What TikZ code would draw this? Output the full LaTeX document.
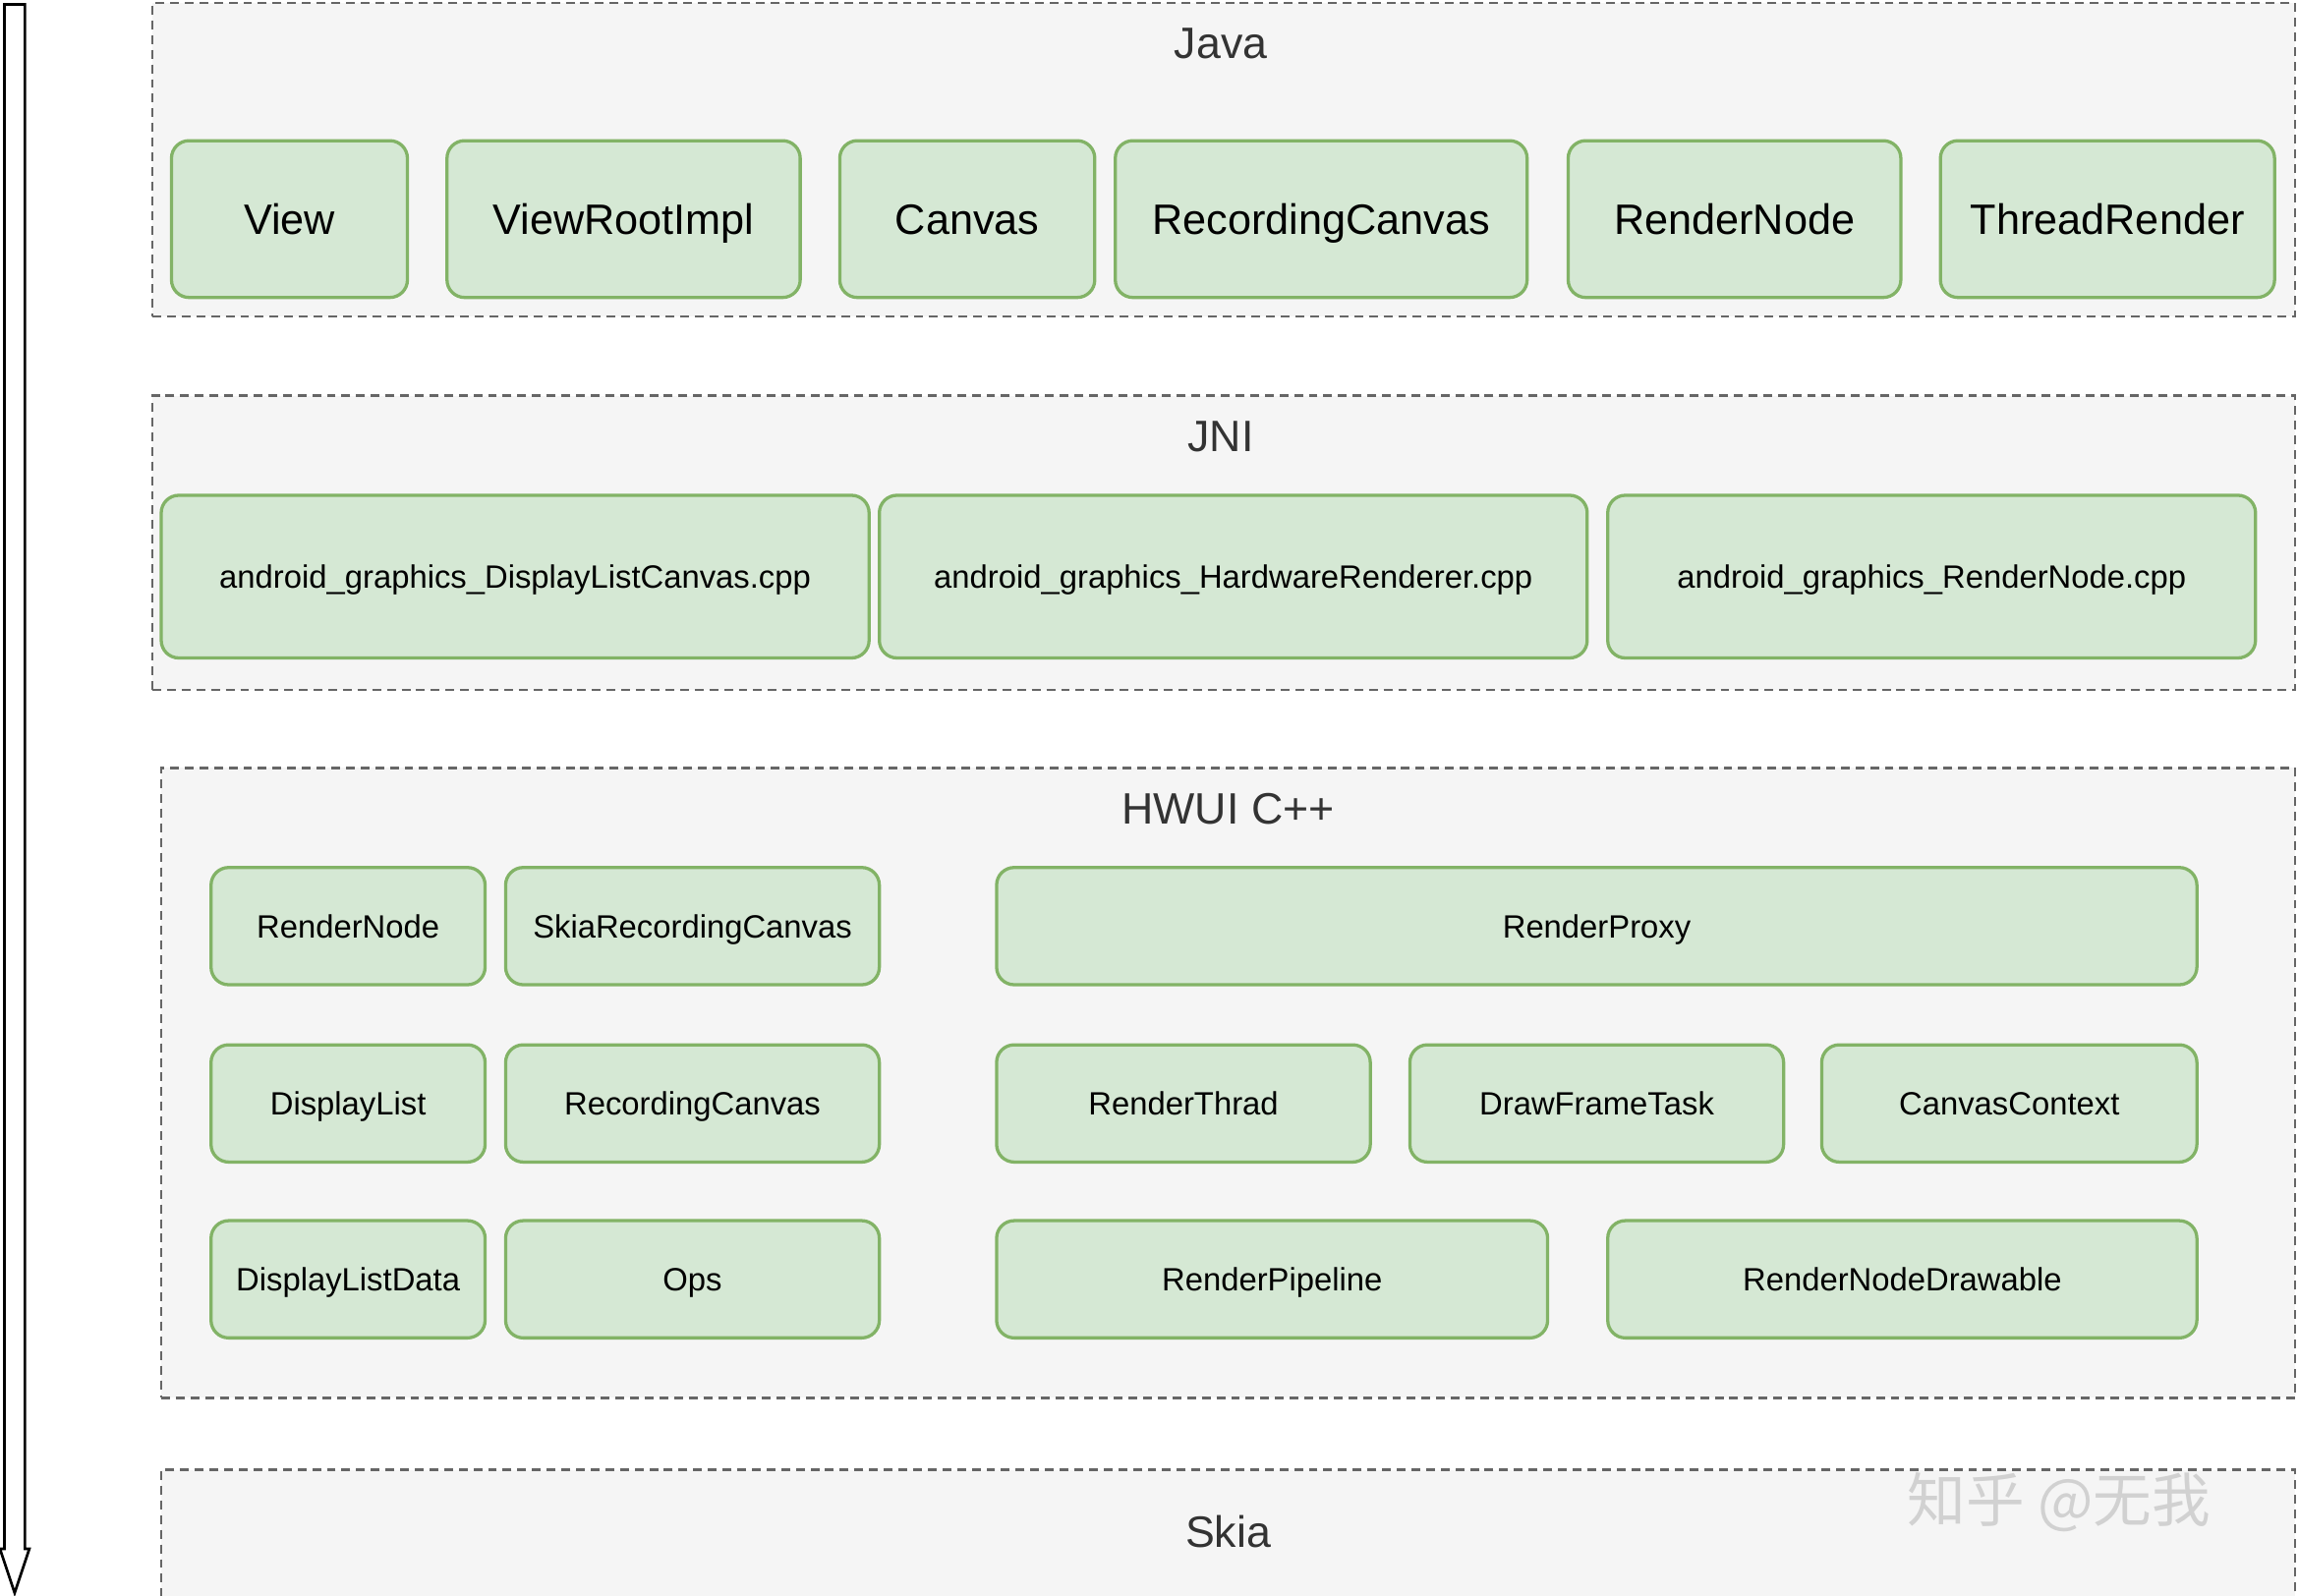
\documentclass[tikz,border=0pt]{standalone}
\usepackage{fontspec}
\setmainfont{Liberation Sans}
\newfontfamily\cjk{Noto Sans CJK SC}
\definecolor{gfill}{HTML}{D5E8D4}
\definecolor{gdraw}{HTML}{82B366}
\definecolor{cfill}{HTML}{F5F5F5}
\definecolor{cdraw}{HTML}{666666}
\definecolor{tcol}{HTML}{333333}
\newcommand\mybox[7]{%
  \node[#1,minimum width={(#4-#2)*1pt},minimum height={(#5-#3)*1pt}] (#6) at ({(#2+#4)/2},{-(#3+#5)/2}) {#7};}
\begin{document}
\begin{tikzpicture}[x=1pt,y=1pt,
  cont/.style={draw=cdraw,fill=cfill,dash pattern=on 6pt off 4pt,line width=1.6pt,inner sep=0},
  big/.style={draw=gdraw,fill=gfill,rounded corners=12pt,line width=2.2pt,inner sep=0,text height=21pt,text depth=0pt,font=\fontsize{29}{34}\selectfont},
  mid/.style={draw=gdraw,fill=gfill,rounded corners=12pt,line width=2.2pt,inner sep=0,text height=16pt,text depth=0pt,font=\fontsize{22}{26}\selectfont},
  ttl/.style={text=tcol,font=\fontsize{30}{34}\selectfont}]
\useasboundingbox (0,0) rectangle (1568,-1089);
\fill[white] (0,0) rectangle (1568,-1089);
% containers
\mybox{cont}{104}{2}{1566}{216}{java}{}
\node[ttl] (tjava) at (833,-30) {Java};
\mybox{cont}{104}{270}{1566}{471}{jni}{}
\node[ttl] (tjni) at (833,-298) {JNI};
\mybox{cont}{110}{524}{1566}{954}{hwui}{}
\node[ttl] (thwui) at (838,-552) {HWUI C++};
\mybox{cont}{110}{1003}{1566}{1100}{skia}{}
\node[ttl] (tskia) at (838,-1045) {Skia};
% Java
\mybox{big}{117}{96}{278}{203}{j1}{View}
\mybox{big}{305}{96}{546}{203}{j2}{ViewRootImpl}
\mybox{big}{573}{96}{747}{203}{j3}{Canvas}
\mybox{big}{761}{96}{1042}{203}{j4}{RecordingCanvas}
\mybox{big}{1070}{96}{1297}{203}{j5}{RenderNode}
\mybox{big}{1324}{96}{1552}{203}{j6}{ThreadRender}
% JNI
\mybox{mid}{110}{338}{593}{449}{n1}{android\_graphics\_DisplayListCanvas.cpp}
\mybox{mid}{600}{338}{1083}{449}{n2}{android\_graphics\_HardwareRenderer.cpp}
\mybox{mid}{1097}{338}{1539}{449}{n3}{android\_graphics\_RenderNode.cpp}
% HWUI
\mybox{mid}{144}{592}{331}{672}{h1}{RenderNode}
\mybox{mid}{345}{592}{600}{672}{h2}{SkiaRecordingCanvas}
\mybox{mid}{680}{592}{1499}{672}{h3}{RenderProxy}
\mybox{mid}{144}{713}{331}{793}{h4}{DisplayList}
\mybox{mid}{345}{713}{600}{793}{h5}{RecordingCanvas}
\mybox{mid}{680}{713}{935}{793}{h6}{RenderThrad}
\mybox{mid}{962}{713}{1217}{793}{h7}{DrawFrameTask}
\mybox{mid}{1243}{713}{1499}{793}{h8}{CanvasContext}
\mybox{mid}{144}{833}{331}{913}{h9}{DisplayListData}
\mybox{mid}{345}{833}{600}{913}{h10}{Ops}
\mybox{mid}{680}{833}{1056}{913}{h11}{RenderPipeline}
\mybox{mid}{1097}{833}{1499}{913}{h12}{RenderNodeDrawable}
% left hollow arrow
\draw[line width=1.8pt,fill=white,line join=miter] (3,-3) -- (17,-3) -- (17,-1057) -- (20,-1057) -- (10,-1087) -- (0,-1057) -- (3,-1057) -- cycle;
% watermark
\node[text=black!18,font=\cjk\fontsize{40}{44}\selectfont] (wm) at (1405,-1025) {知乎 @无我};
\end{tikzpicture}
\end{document}
